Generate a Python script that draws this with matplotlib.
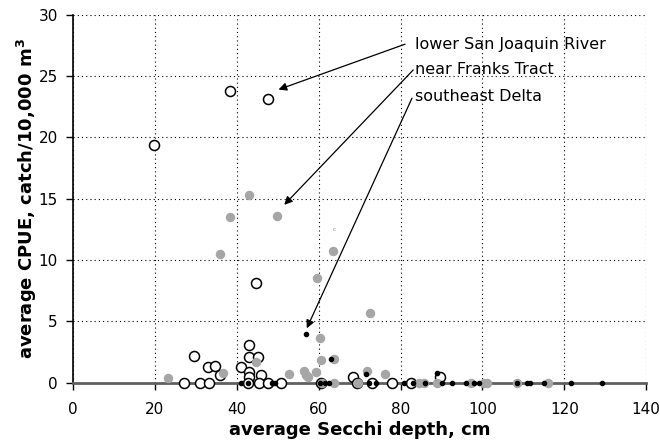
import numpy as np
import matplotlib.pyplot as plt

# lower San Joaquin River (open circles)
sjr_x = [19.8, 38.4, 47.6, 44.6, 43.0, 29.6, 43.0, 45.3, 33.0, 34.7, 41.0, 36.0, 43.0, 43.0, 45.9,
         27.0, 31.0, 33.1, 42.7, 45.5, 47.7, 50.7, 60.5, 68.3, 69.3, 73.0, 77.9, 82.6, 89.7]
sjr_y = [19.4, 23.8, 23.1, 8.15, 3.05, 2.2, 2.05, 2.07, 1.25, 1.39, 1.3, 0.65, 0.85, 0.5, 0.63,
         0, 0, 0, 0, 0, 0, 0, 0, 0.49, 0, 0, 0, 0, 0.49]

# near Franks Tract (grey dots)
ft_x = [43.0, 49.9, 38.3, 35.8, 63.4, 59.5, 72.5, 60.3, 44.6, 60.5, 63.8, 23.2, 36.6, 52.8, 56.5,
        57.5, 57.0, 59.3, 63.8, 71.7, 76.2, 69.6, 60.7, 84.4, 85.8, 88.9, 97.3, 100.3, 101.1, 108.4, 116.0]
ft_y = [15.3, 13.6, 13.5, 10.5, 10.7, 8.5, 5.7, 3.6, 1.66, 1.85, 1.93, 0.38, 0.76, 0.71, 0.92,
        0.47, 0.65, 0.85, 0, 0.92, 0.68, 0, 0, 0, 0, 0, 0, 0, 0, 0, 0]

# southeast Delta (small black dots)
sed_x = [56.9, 63.0, 71.5, 89.0, 41.0, 42.8, 48.5, 49.3, 60.4, 61.6, 62.6, 72.2, 74.0, 80.9, 83.0,
         86.0, 90.2, 92.5, 96.0, 98.0, 99.2, 108.5, 111.0, 111.5, 115.1, 121.6, 129.1]
sed_y = [3.94, 1.9, 0.68, 0.8, 0, 0, 0, 0, 0, 0, 0, 0, 0, 0, 0,
         0, 0, 0, 0, 0, 0, 0, 0, 0, 0, 0, 0]

labels = ['lower San Joaquin River', 'near Franks Tract', 'southeast Delta']
label_xy = [(83.6, 27.6), (83.6, 25.5), (83.6, 23.3)]
arrow_start = [(81.1, 27.6), (83.1, 25.5), (82.8, 23.2)]
arrow_tip = [(50.2, 23.9), (51.6, 14.5), (57.1, 4.43)]

fig = plt.figure(figsize=(6.6, 4.47), dpi=100)
ax = fig.add_axes([0.1106, 0.144, 0.8685, 0.823])

ax.plot(sjr_x, sjr_y, 'o', mfc='white', mec='black', mew=1.1, ms=7.2, ls='none', zorder=3, clip_on=False)
ax.plot(ft_x, ft_y, 'o', color='#a6a6a6', ms=5.8, ls='none', zorder=4, clip_on=False)
ax.plot(sed_x, sed_y, 'o', color='black', ms=3.0, ls='none', zorder=5, clip_on=False)

for lab, (tx, ty), s, t in zip(labels, label_xy, arrow_start, arrow_tip):
    ax.text(tx, ty, lab, fontsize=11.5, va='center', ha='left')
    ax.annotate('', xy=t, xytext=s,
                arrowprops=dict(arrowstyle='-|>', color='black', lw=0.9,
                                mutation_scale=12, shrinkA=0, shrinkB=0))

# stray mark in the original
ax.text(63.8, 12.5, 'c', fontsize=4, color='#808080', ha='center', va='center')

ax.set_xlim(0, 140)
ax.set_ylim(0, 30)
ax.set_xticks(np.arange(0, 141, 20))
ax.set_yticks(np.arange(0, 31, 5))
ax.grid(True, color='black', linestyle=(0, (1, 2.8)), linewidth=0.8)
ax.set_axisbelow(True)

for side in ['top', 'right']:
    ax.spines[side].set_visible(False)
ax.spines['left'].set_color('black')
ax.spines['left'].set_linewidth(1.2)
ax.spines['bottom'].set_color('#606060')
ax.spines['bottom'].set_linewidth(2)
ax.tick_params(direction='out', length=5, width=1, labelsize=11, colors='black')
ax.tick_params(axis='x', pad=9)
ax.tick_params(axis='y', pad=6)

ax.set_xlabel('average Secchi depth, cm', fontsize=13, fontweight='bold', va='center')
ax.set_ylabel('average CPUE, catch/10,000 m$^\\mathbf{3}$', fontsize=13, fontweight='bold', va='center')
ax.xaxis.set_label_coords(0.5, -0.1285)
ax.yaxis.set_label_coords(-0.080, 0.5)

fig.savefig('out.png', dpi=100)
